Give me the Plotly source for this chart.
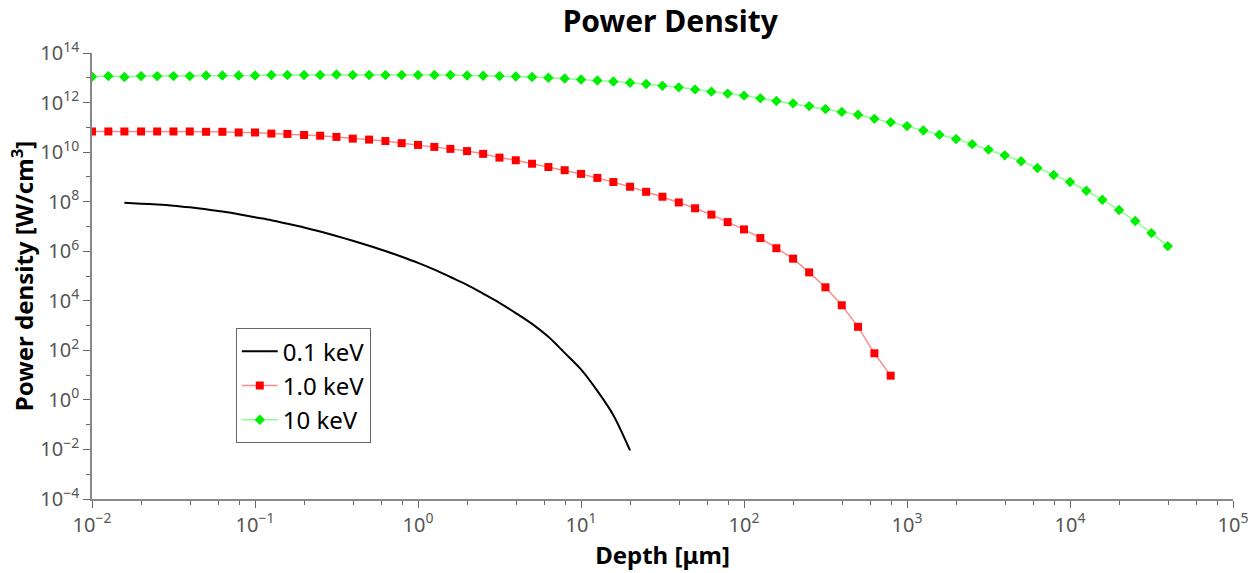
import plotly.graph_objects as go

# Depth grid [µm] (0.1-decade steps)
depth = [0.01, 0.0126, 0.0158, 0.02, 0.0251, 0.0316, 0.0398, 0.0501, 0.0631, 0.0794,
         0.1, 0.126, 0.158, 0.2, 0.251, 0.316, 0.398, 0.501, 0.631, 0.794,
         1.0, 1.26, 1.58, 2.0, 2.51, 3.16, 3.98, 5.01, 6.31, 7.94,
         10.0, 12.6, 15.8, 20.0, 25.1, 31.6, 39.8, 50.1, 63.1, 79.4,
         100.0, 126.0, 158.0, 200.0, 251.0, 316.0, 398.0, 501.0, 631.0, 794.0,
         1000.0, 1260.0, 1580.0, 2000.0, 2510.0, 3160.0, 3980.0, 5010.0, 6310.0, 7940.0,
         10000.0, 12600.0, 15800.0, 20000.0, 25100.0, 31600.0, 39800.0]

# 0.1 keV (line only), depth 0.0158 .. 20 µm
depth_01 = depth[2:34]
power_01 = [9.1e7, 8.3e7, 7.7e7, 6.9e7, 5.9e7, 4.9e7, 4.0e7, 3.1e7, 2.34e7, 1.78e7,
            1.29e7, 9.1e6, 6.2e6, 4.1e6, 2.63e6, 1.66e6, 1.02e6, 6.0e5, 3.4e5, 1.82e5,
            9.1e4, 4.4e4, 1.95e4, 8.3e3, 3.2e3, 1.17e3, 3.5e2, 79.0, 17.0, 2.3,
            0.24, 0.0091]

# 1.0 keV, depth 0.01 .. 794 µm
depth_1 = depth[0:50]
power_1 = [6.8e10, 6.8e10, 6.8e10, 6.8e10, 6.8e10, 6.8e10, 6.8e10, 6.6e10, 6.6e10, 6.2e10,
           6.2e10, 5.6e10, 5.4e10, 4.9e10, 4.6e10, 4.1e10, 3.5e10, 3.2e10, 2.8e10, 2.3e10,
           1.95e10, 1.62e10, 1.35e10, 1.1e10, 8.5e9, 6.0e9, 4.7e9, 3.4e9, 2.5e9, 1.86e9,
           1.32e9, 9.1e8, 6.2e8, 4.0e8, 2.5e8, 1.58e8, 9.3e7, 5.4e7, 3.0e7, 1.5e7,
           7.6e6, 3.4e6, 1.32e6, 5.0e5, 1.4e5, 3.5e4, 6.6e3, 890.0, 76.0, 9.5]

# 10 keV, depth 0.01 .. 39800 µm
depth_10 = depth
power_10 = [1.10e13, 1.17e13, 1.07e13, 1.17e13, 1.17e13, 1.17e13, 1.17e13, 1.23e13, 1.23e13, 1.23e13,
            1.23e13, 1.29e13, 1.29e13, 1.29e13, 1.29e13, 1.35e13, 1.29e13, 1.29e13, 1.29e13, 1.29e13,
            1.29e13, 1.29e13, 1.29e13, 1.23e13, 1.20e13, 1.17e13, 1.12e13, 1.07e13, 1.00e13, 9.3e12,
            8.5e12, 7.8e12, 7.1e12, 6.3e12, 5.6e12, 4.8e12, 4.1e12, 3.4e12, 2.75e12, 2.3e12,
            1.9e12, 1.48e12, 1.15e12, 9.3e11, 7.2e11, 5.5e11, 4.2e11, 3.2e11, 2.2e11, 1.6e11,
            1.12e11, 7.4e10, 5.0e10, 3.4e10, 2.1e10, 1.26e10, 7.4e9, 4.3e9, 2.3e9, 1.2e9,
            6.2e8, 2.75e8, 1.2e8, 4.6e7, 1.66e7, 5.4e6, 1.6e6]

series_names = ["0.1 keV", "1.0 keV", "10 keV"]

x_tick_exp = [-2, -1, 0, 1, 2, 3, 4, 5]
y_tick_exp = [-4, -2, 0, 2, 4, 6, 8, 10, 12, 14]


def sup_label(e):
    s = str(e).replace("-", "\u2212")
    return f"10<sup>{s}</sup>"


fig = go.Figure()
fig.add_trace(go.Scatter(x=depth_01, y=power_01, mode="lines", name=series_names[0],
                         line=dict(color="black", width=2, shape="spline", smoothing=0.8)))
fig.add_trace(go.Scatter(x=depth_1, y=power_1, mode="lines+markers", name=series_names[1],
                         line=dict(color="#ff8a8a", width=1.5),
                         marker=dict(symbol="square", color="#ff0000", size=8)))
fig.add_trace(go.Scatter(x=depth_10, y=power_10, mode="lines+markers", name=series_names[2],
                         line=dict(color="#8cff8c", width=1.5),
                         marker=dict(symbol="diamond", color="#00ee00", size=8)))

axis_font = dict(family="Noto Sans", size=20, color="#555555")
title_font = dict(family="Noto Sans", size=24, color="black")

x_minor = [m * 10 ** e for e in range(-2, 5) for m in (2, 4, 6, 8)]
y_minor = [10.0 ** e for e in range(-3, 14, 2)]

fig.update_xaxes(type="log", range=[-2, 5],
                 tickvals=[10.0 ** e for e in x_tick_exp],
                 ticktext=[sup_label(e) for e in x_tick_exp],
                 ticks="outside", ticklen=7, tickwidth=1, tickcolor="#666666",
                 minor=dict(tickvals=x_minor, ticks="outside", ticklen=4, tickcolor="#666666"),
                 showline=True, linecolor="#888888", linewidth=1.5,
                 showgrid=False, zeroline=False, tickfont=axis_font,
                 title=dict(text="<b>Depth [μm]</b>", font=title_font, standoff=6))
fig.update_yaxes(type="log", range=[-4, 14],
                 tickvals=[10.0 ** e for e in y_tick_exp],
                 ticktext=[sup_label(e) for e in y_tick_exp],
                 ticks="outside", ticklen=7, tickwidth=1, tickcolor="#666666",
                 minor=dict(tickvals=y_minor, ticks="outside", ticklen=4, tickcolor="#666666"),
                 showline=True, linecolor="#888888", linewidth=1.5,
                 showgrid=False, zeroline=False, tickfont=axis_font,
                 title=dict(text="<b>Power density [W/cm<sup>3</sup>]</b>", font=title_font, standoff=0))

fig.update_layout(
    width=1260, height=573,
    margin=dict(l=92, r=27, t=53, b=71),
    paper_bgcolor="white", plot_bgcolor="white",
    title=dict(text="<b>Power Density</b>", x=0.532, xanchor="center", y=0.962, yanchor="middle",
               font=dict(family="Noto Sans", size=30, color="black")),
    legend=dict(x=0.126, y=0.383, xanchor="left", yanchor="top",
                bgcolor="white", bordercolor="#666666", borderwidth=1,
                font=dict(family="Noto Sans", size=24, color="black"),
                itemwidth=36, tracegroupgap=0),
    showlegend=True,
)

fig.write_html("out.html")
